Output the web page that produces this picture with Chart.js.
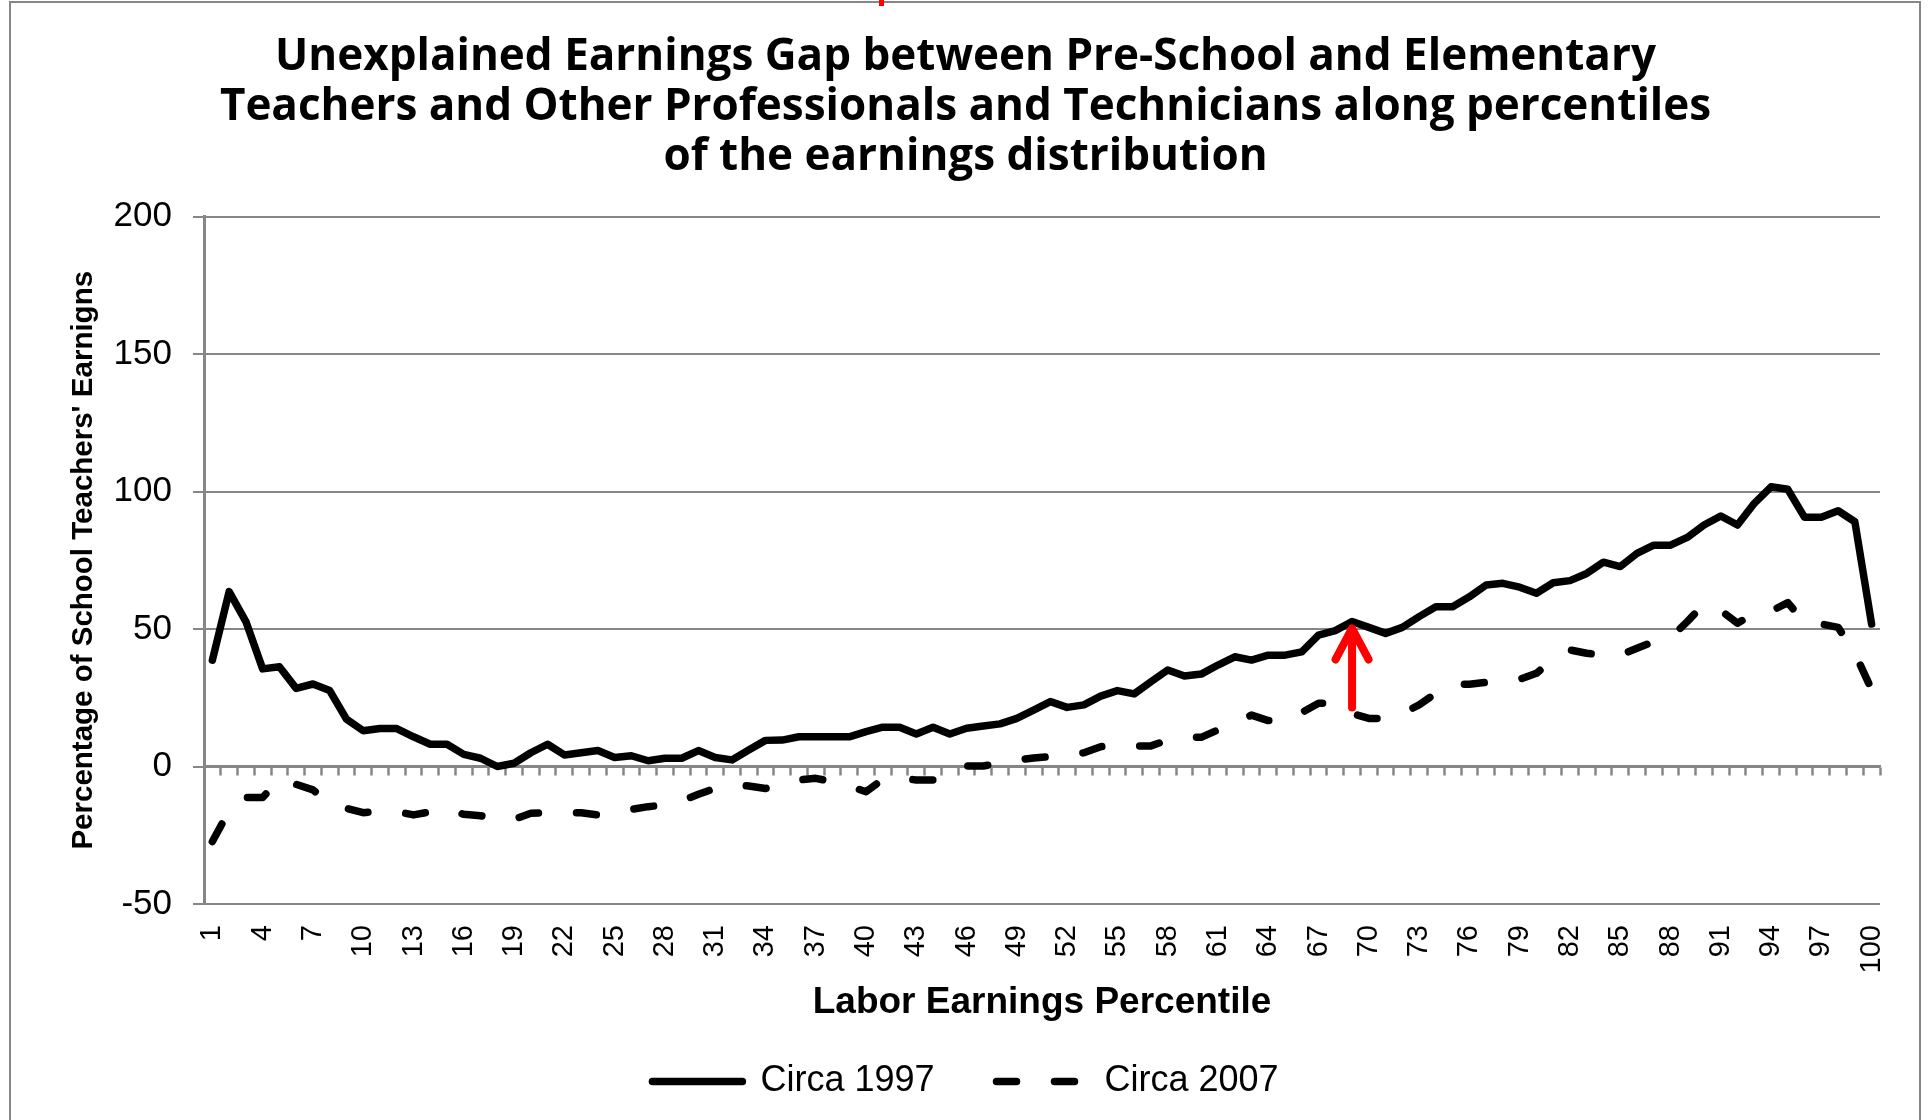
<!DOCTYPE html>
<html>
<head>
<meta charset="utf-8">
<title>Unexplained Earnings Gap</title>
<script src="https://cdn.jsdelivr.net/npm/chart.js@4.4.1/dist/chart.umd.min.js"></script>
<style>
  html, body { margin: 0; padding: 0; background: #fff; }
  #wrap { width: 1931px; height: 1120px; }
</style>
</head>
<body>
<div id="wrap"><canvas id="myChart" width="1931" height="1120"></canvas></div>
<script>
// percentiles of the earnings distribution (x categories)
var percentiles = [
  1, 2, 3, 4, 5, 6, 7, 8, 9, 10, 11, 12, 13, 14, 15, 16, 17, 18, 19, 20,
  21, 22, 23, 24, 25, 26, 27, 28, 29, 30, 31, 32, 33, 34, 35, 36, 37, 38, 39, 40,
  41, 42, 43, 44, 45, 46, 47, 48, 49, 50, 51, 52, 53, 54, 55, 56, 57, 58, 59, 60,
  61, 62, 63, 64, 65, 66, 67, 68, 69, 70, 71, 72, 73, 74, 75, 76, 77, 78, 79, 80,
  81, 82, 83, 84, 85, 86, 87, 88, 89, 90, 91, 92, 93, 94, 95, 96, 97, 98, 99, 100
];

// only every third percentile gets a label on the axis
var tickLabels = [1, 4, 7, 10, 13, 16, 19, 22, 25, 28, 31, 34, 37, 40, 43, 46, 49,
  52, 55, 58, 61, 64, 67, 70, 73, 76, 79, 82, 85, 88, 91, 94, 97, 100];

var circa1997 = [
  38.7, 63.6, 52.7, 35.5, 36.3, 28.4, 30.0, 27.6, 17.2, 13.0,
  13.8, 13.8, 10.8, 8.1, 8.1, 4.4, 3.0, 0.0, 1.2, 5.0,
  8.1, 4.2, 5.0, 5.8, 3.3, 3.9, 2.1, 3.0, 3.0, 5.8,
  3.3, 2.4, 6.0, 9.5, 9.6, 10.8, 10.8, 10.8, 10.8, 12.7,
  14.3, 14.3, 11.8, 14.3, 11.8, 13.9, 14.7, 15.5, 17.5, 20.5,
  23.6, 21.5, 22.4, 25.6, 27.6, 26.4, 30.8, 35.1, 32.9, 33.6,
  36.9, 39.9, 38.7, 40.5, 40.5, 41.7, 47.8, 49.4, 52.7, 50.6,
  48.4, 50.6, 54.5, 58.1, 58.1, 61.7, 66.0, 66.6, 65.2, 63.0,
  66.8, 67.6, 70.2, 74.3, 72.7, 77.5, 80.5, 80.5, 83.3, 87.8,
  91.1, 87.8, 95.7, 101.7, 100.8, 90.6, 90.6, 93.0, 89.0, 51.8
];

var circa2007 = [
  -27.3, -16.0, -11.3, -11.3, -4.7, -6.5, -8.5, -13.3, -15.2, -16.8,
  -16.2, -16.4, -17.6, -16.5, -15.3, -17.4, -17.9, -19.2, -19.2, -17.0,
  -16.8, -16.8, -16.8, -17.6, -16.4, -15.6, -14.6, -14.0, -12.5, -10.1,
  -7.9, -6.5, -7.1, -8.0, -6.7, -4.9, -4.3, -5.5, -7.1, -9.2,
  -4.7, -4.3, -4.9, -4.9, -3.1, 0.2, 0.2, 1.2, 2.4, 3.1,
  3.6, 4.2, 5.0, 7.2, 7.9, 7.5, 7.5, 9.6, 10.6, 10.6,
  13.3, 15.5, 18.7, 16.7, 16.7, 19.6, 23.0, 23.0, 19.3, 17.5,
  17.5, 19.3, 22.4, 26.6, 29.9, 29.9, 30.6, 31.2, 31.7, 33.9,
  39.0, 42.4, 41.2, 40.5, 40.5, 43.0, 45.4, 46.8, 52.7, 59.0,
  56.7, 52.1, 55.7, 56.5, 59.6, 52.3, 51.8, 50.6, 41.2, 28.0
];

// red arrow marking the gap between the two years
var arrowPercentile = 69;
var arrowFrom = 21.5;
var arrowTo = 50.2;

var grey = '#868686';
Chart.defaults.color = '#000';
Chart.defaults.font.family = "'Liberation Sans', Arial, sans-serif";

// outer frame of the picture
var framePlugin = {
    id: 'frame',
    beforeDraw: function(chart) {
        var ctx = chart.ctx;
        ctx.save();
        ctx.fillStyle = '#fff';
        ctx.fillRect(0, 0, chart.width, chart.height);
        ctx.strokeStyle = grey;
        ctx.lineWidth = 2;
        ctx.beginPath();
        ctx.moveTo(10, chart.height);
        ctx.lineTo(10, 2);
        ctx.lineTo(1920, 2);
        ctx.lineTo(1920, chart.height);
        ctx.stroke();
        ctx.fillStyle = '#ff0000';
        ctx.fillRect(879, 0, 5, 6);
        ctx.restore();
    }
};

var arrowPlugin = {
    id: 'gapArrow',
    afterDatasetsDraw: function(chart) {
        var ctx = chart.ctx;
        var x = chart.scales.x.getPixelForValue(percentiles.indexOf(arrowPercentile));
        var yFrom = chart.scales.y.getPixelForValue(arrowFrom);
        var yTo = chart.scales.y.getPixelForValue(arrowTo);
        ctx.save();
        ctx.strokeStyle = '#ff0000';
        ctx.lineWidth = 8;
        ctx.lineCap = 'round';
        ctx.lineJoin = 'round';
        ctx.beginPath();
        ctx.moveTo(x, yFrom);
        ctx.lineTo(x, yTo + 3);
        ctx.stroke();
        ctx.beginPath();
        ctx.moveTo(x - 16.5, yTo + 31);
        ctx.lineTo(x, yTo);
        ctx.lineTo(x + 16.5, yTo + 31);
        ctx.stroke();
        ctx.restore();
    }
};

var data = {
    labels: percentiles,
    datasets: [{
        label: 'Circa 1997',
        data: circa1997,
        borderColor: '#000',
        backgroundColor: '#000',
        borderWidth: 7.5,
        borderCapStyle: 'round',
        borderJoinStyle: 'round',
        pointRadius: 0,
        tension: 0
    }, {
        label: 'Circa 2007',
        data: circa2007,
        borderColor: '#000',
        backgroundColor: '#000',
        borderWidth: 7.5,
        borderDash: [20, 38],
        borderCapStyle: 'round',
        borderJoinStyle: 'round',
        pointRadius: 0,
        tension: 0
    }]
};

var options = {
    responsive: false,
    animation: false,
    devicePixelRatio: 1,
    layout: { padding: { left: 51, right: 51, top: 0, bottom: 10.5 } },
    plugins: {
        tooltip: { enabled: false },
        title: {
            display: true,
            text: ['Unexplained Earnings Gap between Pre-School and Elementary',
                   'Teachers and Other Professionals and Technicians along percentiles',
                   'of the earnings distribution'],
            color: '#000',
            font: { family: "'Open Sans', sans-serif", size: 44, weight: 'bold', lineHeight: '50px' },
            padding: { top: 32.5, bottom: 34 }
        },
        legend: {
            position: 'bottom',
            labels: {
                usePointStyle: true,
                pointStyle: 'line',
                pointStyleWidth: 90,
                padding: 62,
                color: '#000',
                font: { size: 36 },
                // point style items lose the dataset dash, so copy it back
                generateLabels: function(chart) {
                    var items = Chart.defaults.plugins.legend.labels.generateLabels(chart);
                    items.forEach(function(item) {
                        var ds = chart.data.datasets[item.datasetIndex];
                        item.lineDash = ds.borderDash || [];
                        item.lineCap = 'round';
                        item.lineWidth = ds.borderWidth;
                    });
                    return items;
                }
            }
        }
    },
    scales: {
        x: {
            type: 'category',
            position: 'bottom',
            offset: true,
            grid: { display: false, drawTicks: false },
            border: { display: false },
            ticks: {
                autoSkip: false,
                minRotation: 90,
                maxRotation: 90,
                padding: 21,
                font: { size: 29 },
                callback: function(value, index) {
                    return tickLabels.indexOf(percentiles[index]) >= 0 ? String(percentiles[index]) : '';
                }
            },
            title: {
                display: true,
                text: 'Labor Earnings Percentile',
                font: { size: 37, weight: 'bold' },
                padding: { top: 0, bottom: -23 }
            },
            afterFit: function(scale) { scale.height = 97.5; }
        },
        // category axis line with tick marks crossing at zero
        x2: {
            type: 'category',
            labels: percentiles,
            position: { y: 0 },
            offset: true,
            grid: {
                display: true,
                offset: true,
                drawOnChartArea: false,
                drawTicks: true,
                tickLength: 8,
                tickColor: grey,
                tickWidth: 2.5,
                color: grey
            },
            border: { display: true, color: grey, width: 2.5 },
            ticks: { display: false }
        },
        y: {
            min: -50,
            max: 200,
            ticks: { stepSize: 50, padding: 21, font: { size: 35 } },
            grid: { color: grey, lineWidth: 2, tickLength: 11 },
            border: { display: true, color: grey, width: 3 },
            title: {
                display: true,
                text: "Percentage of School Teachers' Earnigns",
                font: { size: 29.5, weight: 'bold' },
                padding: { top: 15, bottom: 0 }
            },
            afterFit: function(scale) { scale.width = 153; }
        }
    }
};

var ctx = document.getElementById('myChart').getContext('2d');
var myChart = new Chart(ctx, {
    type: 'line',
    data: data,
    options: options,
    plugins: [framePlugin, arrowPlugin]
});
</script>
</body>
</html>
